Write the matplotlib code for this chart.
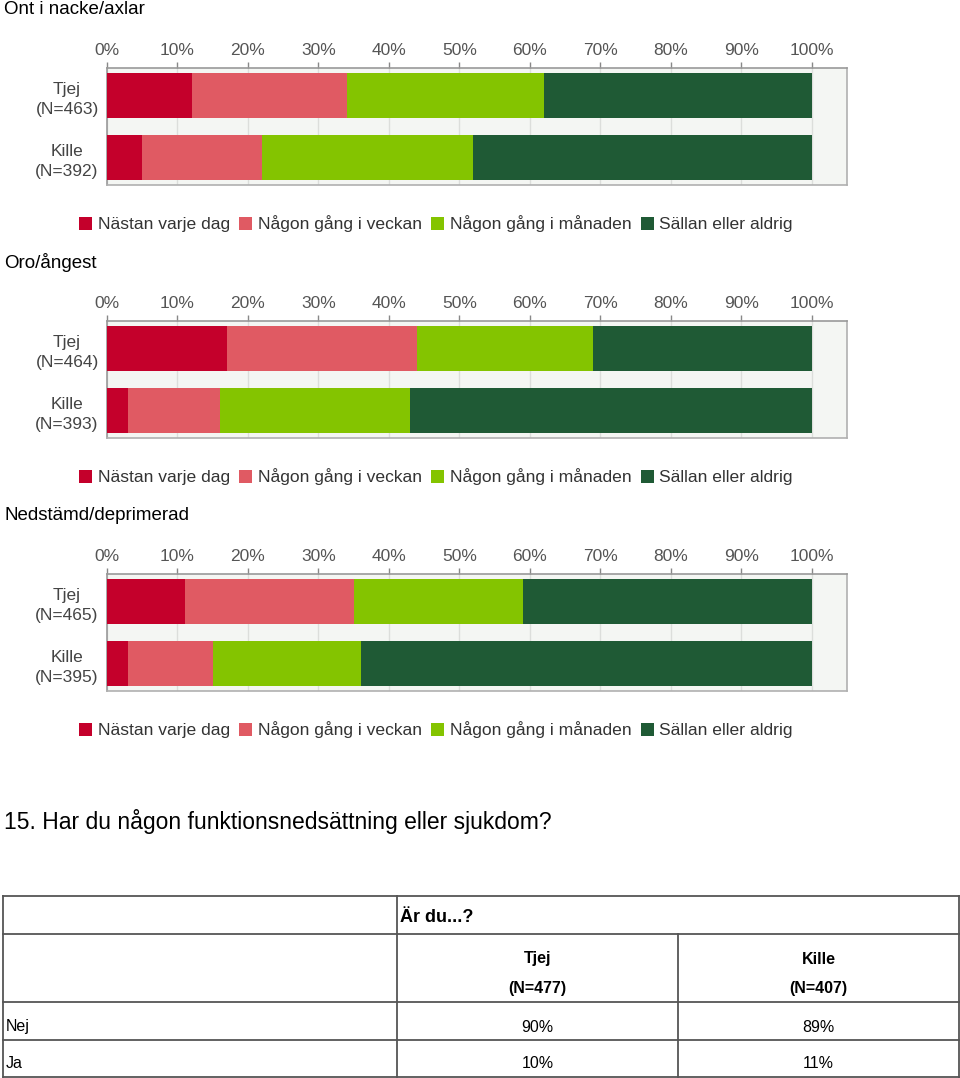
import matplotlib
matplotlib.use("Agg")
import matplotlib.pyplot as plt
import numpy as np

plt.rcParams['font.family'] = ['Liberation Sans', 'DejaVu Sans']

# data
titles = ['Ont i nacke/axlar', 'Oro/ångest', 'Nedstämd/deprimerad']
groups = [['Tjej\n(N=463)', 'Kille\n(N=392)'],
          ['Tjej\n(N=464)', 'Kille\n(N=393)'],
          ['Tjej\n(N=465)', 'Kille\n(N=395)']]
answers = ['Nästan varje dag', 'Någon gång i veckan', 'Någon gång i månaden', 'Sällan eller aldrig']
# percent per answer, rows = [Tjej, Kille]
nacke = [[12, 22, 28, 38], [5, 17, 30, 48]]
oro = [[17, 27, 25, 31], [3, 13, 27, 57]]
nedstamd = [[11, 24, 24, 41], [3, 12, 21, 64]]
values = [nacke, oro, nedstamd]

colors = ['#c4002b', '#e05a63', '#84c400', '#1f5a35']

table_q = '15. Har du någon funktionsnedsättning eller sjukdom?'
table_head = 'Är du...?'
table_cols = [('Tjej', '(N=477)'), ('Kille', '(N=407)')]
table_rows = ['Nej', 'Ja']
table_vals = [['90%', '89%'], ['10%', '11%']]

W, H = 960, 1078
fig = plt.figure(figsize=(W / 100, H / 100), dpi=100)


def px_axes(x0, y0, x1, y1):
    return fig.add_axes([x0 / W, 1 - y1 / H, (x1 - x0) / W, (y1 - y0) / H])


offset = 253
for k in range(3):
    dy = k * offset
    fig.text(4 / W, 1 - (9 + dy) / H, titles[k], fontsize=13.5, va='center', ha='left')
    ax = px_axes(107, 68 + dy, 847, 185 + dy)
    ax.set_facecolor('#f4f6f3')
    data = np.array(values[k], dtype=float)
    ypos = np.arange(len(groups[k]))
    left = np.zeros(len(ypos))
    handles = []
    for j, name in enumerate(answers):
        h = ax.barh(ypos, data[:, j], left=left, height=0.726, color=colors[j],
                    label=name, zorder=3)
        handles.append(h)
        left += data[:, j]
    ax.set_xlim(0, 105)
    ax.set_ylim(1.444, -0.444)
    ax.set_xticks(np.arange(0, 101, 10))
    ax.set_xticklabels([f'{t}%' for t in range(0, 101, 10)], fontsize=12.5, color='#555555')
    ax.xaxis.tick_top()
    ax.tick_params(axis='x', length=4, width=1, color='#888888', pad=3)
    ax.set_yticks(ypos)
    ax.set_yticklabels(groups[k], fontsize=12.5, color='#444444',
                       multialignment='center', linespacing=1.45)
    ax.tick_params(axis='y', length=0, pad=6)
    ax.grid(axis='x', color='#dcdedb', linewidth=1, zorder=0)
    for s in ax.spines.values():
        s.set_color('#b0b0b0')
        s.set_linewidth(1.2)
    ax.spines['top'].set_color('#999999')
    ax.spines['left'].set_color('#999999')
    fig.legend(handles=handles, labels=answers, loc='center',
               bbox_to_anchor=(436 / W, 1 - (224 + dy) / H), ncol=4, frameon=False,
               fontsize=12.6, handlelength=0.75, handleheight=0.75, handletextpad=0.3,
               columnspacing=0.55, labelcolor='#333333')

# question + table
fig.text(4 / W, 1 - 822 / H, table_q, fontsize=16.5, va='center', ha='left')

tab = fig.add_axes([0, 0, 1, 1])
tab.set_xlim(0, W)
tab.set_ylim(H, 0)
tab.axis('off')
lc = '#555555'
lw = 1.3
xl, xm, xr, xe = 3, 397, 678, 959
y_lines = [896, 934, 1002, 1040, 1077]
for yy in y_lines:
    tab.plot([xl, xe], [yy, yy], color=lc, lw=lw)
tab.plot([xl, xl], [896, 1077], color=lc, lw=lw)
tab.plot([xe, xe], [896, 1077], color=lc, lw=lw)
tab.plot([xm, xm], [896, 1077], color=lc, lw=lw)
tab.plot([xr, xr], [934, 1077], color=lc, lw=lw)

tab.text(400, 918, table_head, fontsize=13, fontweight='bold', va='center', ha='left')
col_centers = [(xm + xr) / 2, (xr + xe) / 2]
for c, (a, b) in zip(col_centers, table_cols):
    tab.text(c, 959, a, fontsize=11.5, fontweight='bold', va='center', ha='center')
    tab.text(c, 989, b, fontsize=11.5, fontweight='bold', va='center', ha='center')
row_y = [1027, 1064]
for ry, rname, rv in zip(row_y, table_rows, table_vals):
    tab.text(6, ry, rname, fontsize=11.5, va='center', ha='left')
    for c, v in zip(col_centers, rv):
        tab.text(c, ry, v, fontsize=11.5, va='center', ha='center')

fig.savefig('out.png', dpi=100)
